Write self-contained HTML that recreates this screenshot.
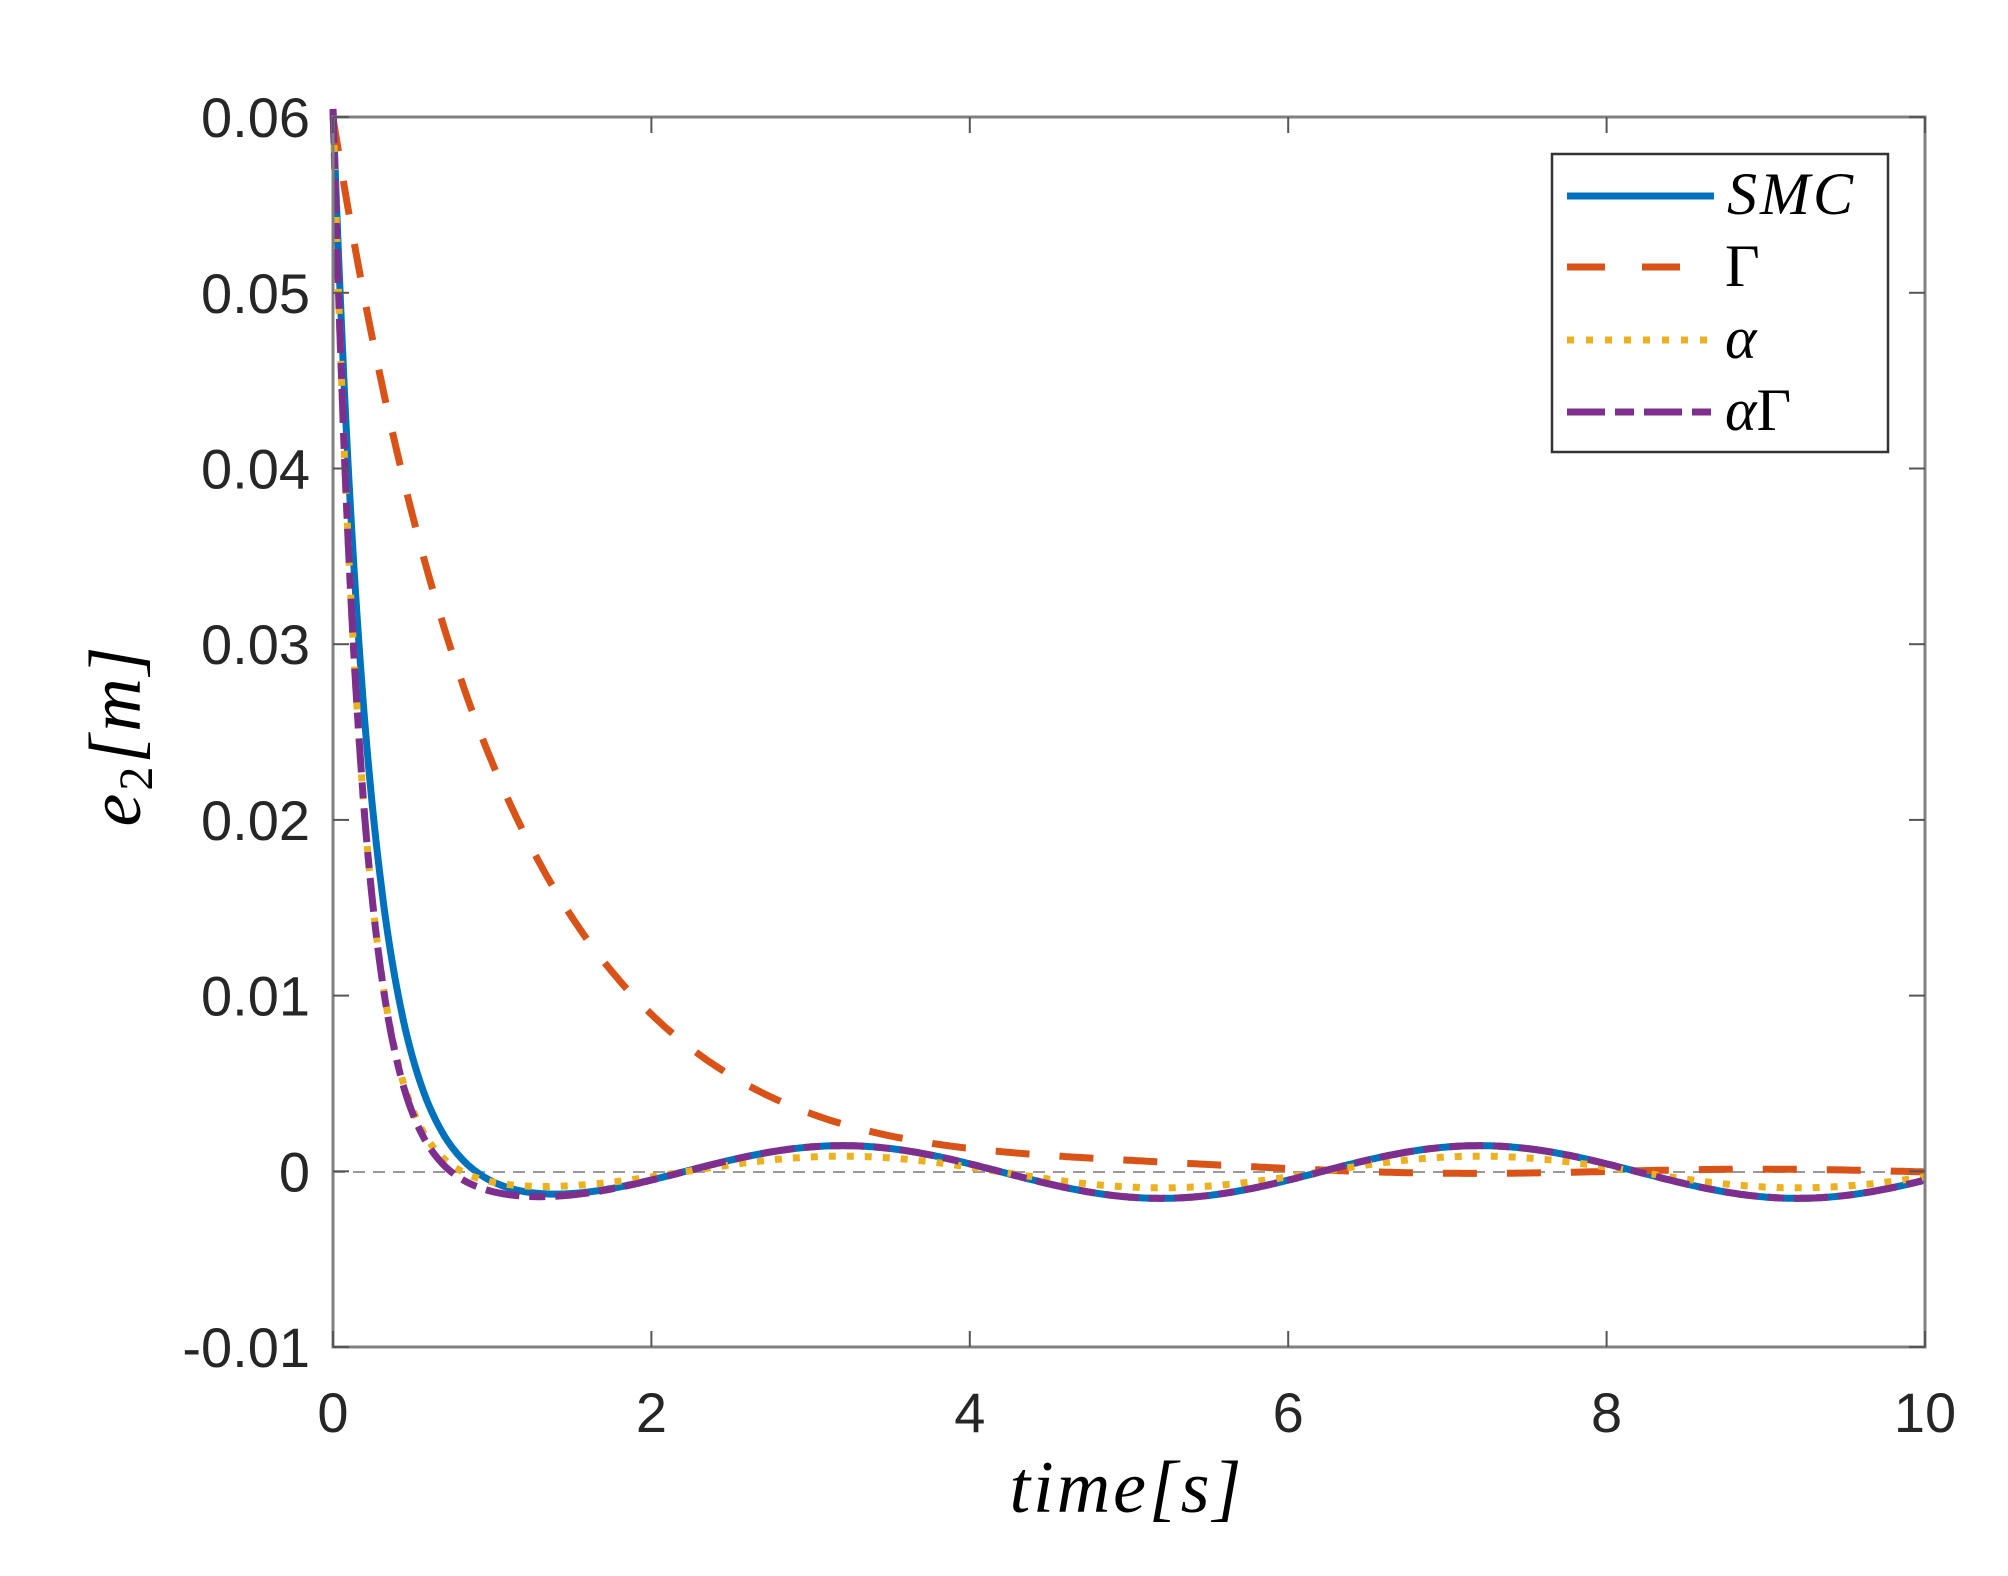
<!DOCTYPE html>
<html><head><meta charset="utf-8"><style>
html,body{margin:0;padding:0;background:#fff;}
svg{display:block}
.t{font-family:"Liberation Sans",sans-serif;font-size:56px;fill:#262626}
.m{font-family:"Liberation Serif",serif;font-style:italic;fill:#000}
</style></head><body>
<svg id="s" width="2008" height="1576" xmlns="http://www.w3.org/2000/svg">
<rect width="2008" height="1576" fill="#fff"/>
<line x1="333" y1="1172" x2="1925" y2="1172" stroke="#999" stroke-width="2" stroke-dasharray="12,8"/>
<g id="curves"></g>
<rect x="333" y="117" width="1592" height="1230" fill="none" stroke="#808080" stroke-width="3"/>
<g id="ticks" stroke="#555" stroke-width="2"></g>
<g class="t" text-anchor="end" id="yl"></g>
<g class="t" text-anchor="middle" id="xl"></g>
<text class="m" x="1127" y="1512" font-size="74" text-anchor="middle" letter-spacing="3">time[s]</text>
<text class="m" transform="translate(140,735) rotate(-90)" font-size="74" text-anchor="middle" letter-spacing="3">e<tspan font-size="48" dy="12" font-style="normal">2</tspan><tspan dy="-12">[m]</tspan></text>
<rect x="1552" y="154" width="336" height="298" fill="#fff" stroke="#333" stroke-width="2.5"/>
<line x1="1567" y1="196" x2="1714" y2="196" stroke="#0072BD" stroke-width="7"/>
<line x1="1567" y1="267" x2="1714" y2="267" stroke="#D95319" stroke-width="7" stroke-dasharray="38,37"/>
<line x1="1567" y1="340" x2="1710" y2="340" stroke="#EDB120" stroke-width="7" stroke-dasharray="7,12"/>
<line x1="1567" y1="412" x2="1714" y2="412" stroke="#7E2F8E" stroke-width="7" stroke-dasharray="38,10,19,10"/>
<g class="m" font-size="60">
<text x="1727" y="214" letter-spacing="3">SMC</text>
<text x="1725" y="286" font-style="normal">Γ</text>
<text x="1725" y="358">α</text>
<text x="1725" y="430">α<tspan font-style="normal">Γ</tspan></text>
</g>
</svg>
<script>
const X=t=>333+t*159.2, Y=v=>1172-v*17570;
function path(f){let d='';for(let i=0;i<=1000;i++){const t=i/100;d+=(i?'L':'M')+X(t).toFixed(1)+','+Y(f(t)).toFixed(1);}return d;}
const osc=(a,t)=>-a*Math.cos(2*Math.PI*(t-1.2)/4);
const fs=[
 [t=>0.0605*Math.exp(-4.3*t)+osc(0.0015,t)*(1-Math.exp(-3*t)),'#0072BD','none'],
 [t=>0.06*Math.exp(-0.95*t)+0.00015*Math.cos(2*Math.PI*(t-5.0)/4)*(1-Math.exp(-t)),'#D95319','34,30'],
 [t=>0.0605*Math.exp(-5.5*t)+osc(0.0009,t)*(1-Math.exp(-3*t)),'#EDB120','7,11'],
 [t=>0.0605*Math.exp(-5.5*t)+osc(0.0015,t)*(1-Math.exp(-3*t)),'#7E2F8E','34,10,16,10']];
let g='';for(const [f,c,da] of fs){g+=`<path d="${path(f)}" fill="none" stroke="${c}" stroke-width="7" ${da!='none'?'stroke-dasharray="'+da+'"':''}/>`;}
document.getElementById('curves').innerHTML=g;
let tk='',yl='',xl='';
for(let i=0;i<=7;i++){const y=1347-i*175.7;tk+=`<line x1="333" y1="${y}" x2="349" y2="${y}"/><line x1="1925" y1="${y}" x2="1909" y2="${y}"/>`;
 const v=(-0.01+i*0.01).toFixed(2);yl+=`<text x="310" y="${y+20}">${v=='0.00'?'0':v}</text>`;}
for(let i=0;i<=5;i++){const x=X(2*i);tk+=`<line x1="${x}" y1="1347" x2="${x}" y2="1331"/><line x1="${x}" y1="117" x2="${x}" y2="133"/>`;
 xl+=`<text x="${x}" y="1432">${2*i}</text>`;}
document.getElementById('ticks').innerHTML=tk;document.getElementById('yl').innerHTML=yl;document.getElementById('xl').innerHTML=xl;
</script>
</body></html>
